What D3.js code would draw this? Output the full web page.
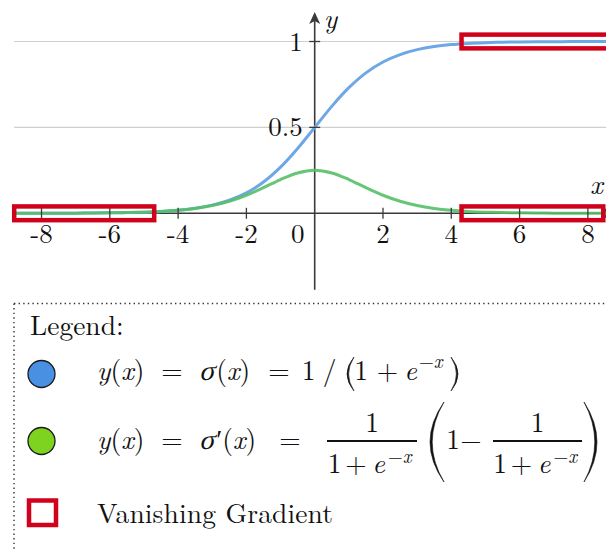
<!DOCTYPE html>
<html>
<head>
<meta charset="utf-8">
<script src="https://cdn.jsdelivr.net/npm/d3@7"></script>
<style>
  html, body { margin: 0; padding: 0; background: #fff; }
  svg { display: block; }
</style>
</head>
<body>
<svg id="chart" width="606" height="551"></svg>
<script>
// ---- data ----
const xTicks = [-8, -6, -4, -2, 2, 4, 6, 8];
const xTickLabels = ["-8", "-6", "-4", "-2", "2", "4", "6", "8"];
const yTicks = [0.5, 1];
const yTickLabels = ["0.5", "1"];

// sampled curve values
const xs = [-8.8, -8, -7.5, -7, -6.5, -6, -5.5, -5, -4.5, -4, -3.5, -3, -2.5, -2, -1.5, -1, -0.5,
            0, 0.5, 1, 1.5, 2, 2.5, 3, 3.5, 4, 4.5, 5, 5.5, 6, 6.5, 7, 7.5, 8, 8.8];
const sigmoidY = [0.0002, 0.0003, 0.0006, 0.0009, 0.0015, 0.0025, 0.0041, 0.0067, 0.0110, 0.0180,
                  0.0293, 0.0474, 0.0759, 0.1192, 0.1824, 0.2689, 0.3775, 0.5, 0.6225, 0.7311,
                  0.8176, 0.8808, 0.9241, 0.9526, 0.9707, 0.9820, 0.9890, 0.9933, 0.9959, 0.9975,
                  0.9985, 0.9991, 0.9994, 0.9997, 0.9998];
const sigmoidPrimeY = [0.0002, 0.0003, 0.0006, 0.0009, 0.0015, 0.0025, 0.0041, 0.0066, 0.0109, 0.0177,
                       0.0285, 0.0452, 0.0701, 0.1050, 0.1491, 0.1966, 0.2350, 0.25, 0.2350, 0.1966,
                       0.1491, 0.1050, 0.0701, 0.0452, 0.0285, 0.0177, 0.0109, 0.0066, 0.0041, 0.0025,
                       0.0015, 0.0009, 0.0006, 0.0003, 0.0002];

// vanishing-gradient regions: x extent around a y level
const vanishingX0 = [-8.8, 4.3, 4.3];
const vanishingX1 = [-4.7, 8.45, 8.95];
const vanishingY = [0, 0, 1];
const vanishingHalf = 0.04;

const legendTitle = "Legend:";
const legendLabel3 = "Vanishing Gradient";

const FONT = "Latin Modern Roman, Liberation Serif, serif";
const GREEK_FONT = "Liberation Serif";

// ---- scales ----
const svg = d3.select("#chart");
const x = d3.scaleLinear().domain([-8.8, 8.8]).range([14.2, 615.2]);
const y = d3.scaleLinear().domain([0, 1]).range([213.3, 41.5]);

const BLUE = "#6ea7e6", GREEN = "#55c067", RED = "#d0021b", AXIS = "#3a3a3a", INK = "#111";

function txt(g, px, py, size) {
  return g.append("text").attr("x", px).attr("y", py)
    .attr("font-family", FONT).attr("font-size", size).attr("fill", INK);
}

// grid lines
svg.append("g").selectAll("line").data(yTicks).join("line")
  .attr("x1", x(-8.8)).attr("x2", x(8.8))
  .attr("y1", d => y(d)).attr("y2", d => y(d))
  .attr("stroke", "#cfcfcf").attr("stroke-width", 1.2);

// axis lines
const axes = svg.append("g").attr("stroke", AXIS).attr("stroke-width", 1.6);
axes.append("line").attr("x1", x(-8.8)).attr("x2", x(8.8) - 8).attr("y1", y(0)).attr("y2", y(0));
axes.append("line").attr("x1", x(0)).attr("x2", x(0)).attr("y1", y(-0.445)).attr("y2", y(1.172) + 8);

// arrow heads
const arrow = "M0,0 L-5.5,12 L0,9 L5.5,12 Z";
svg.append("path").attr("d", arrow).attr("fill", AXIS)
  .attr("transform", `translate(${x(0)},${y(1.172)})`);
svg.append("path").attr("d", arrow).attr("fill", AXIS)
  .attr("transform", `translate(${x(8.8)},${y(0)}) rotate(90)`);

// curves
const line = d3.line().curve(d3.curveCatmullRom.alpha(0.5))
  .x(d => x(d[0])).y(d => y(d[1]));
svg.append("path").datum(xs.map((v, i) => [v, sigmoidY[i]]))
  .attr("d", line).attr("fill", "none").attr("stroke", BLUE).attr("stroke-width", 3);
svg.append("path").datum(xs.map((v, i) => [v, sigmoidPrimeY[i]]))
  .attr("d", line).attr("fill", "none").attr("stroke", GREEN).attr("stroke-width", 3)
  .attr("stroke-opacity", 0.9);

// ticks
svg.append("g").selectAll("line").data(xTicks).join("line")
  .attr("x1", d => x(d)).attr("x2", d => x(d))
  .attr("y1", y(0) - 5.5).attr("y2", y(0) + 5.5)
  .attr("stroke", AXIS).attr("stroke-width", 1.3);
svg.append("g").selectAll("line").data(yTicks).join("line")
  .attr("x1", x(0) - 5.5).attr("x2", x(0) + 5.5)
  .attr("y1", d => y(d)).attr("y2", d => y(d))
  .attr("stroke", AXIS).attr("stroke-width", 1.3);

// tick labels
const xl = svg.append("g");
xTicks.forEach((d, i) => txt(xl, x(d), 243, 27).attr("text-anchor", "middle").text(xTickLabels[i]));
txt(svg, x(0) - 17, 243, 27).attr("text-anchor", "middle").text("0");
const yl = svg.append("g");
yTicks.forEach((d, i) => txt(yl, x(0) - 12, y(d) + 9, 27).attr("text-anchor", "end").text(yTickLabels[i]));

// axis names
txt(svg, x(0) + 9, 28, 27.5).attr("font-style", "italic").text("y");
txt(svg, 590, 194, 27.5).attr("font-style", "italic").text("x");

// vanishing-gradient boxes
svg.append("g").selectAll("rect").data(vanishingX0).join("rect")
  .attr("x", d => x(d))
  .attr("width", (d, i) => x(vanishingX1[i]) - x(d))
  .attr("y", (d, i) => y(vanishingY[i] + vanishingHalf))
  .attr("height", (d, i) => y(vanishingY[i] - vanishingHalf) - y(vanishingY[i] + vanishingHalf))
  .attr("fill", "none").attr("stroke", RED).attr("stroke-width", 4.5);

// ---- legend ----
const lg = svg.append("g");
lg.append("line").attr("x1", 14).attr("x2", 606).attr("y1", 303.5).attr("y2", 303.5)
  .attr("stroke", "#333").attr("stroke-width", 1.4).attr("stroke-dasharray", "1.4,3.2");
lg.append("line").attr("x1", 14).attr("x2", 14).attr("y1", 303.5).attr("y2", 551)
  .attr("stroke", "#333").attr("stroke-width", 1.4).attr("stroke-dasharray", "1.4,3.2");

txt(lg, 30, 335, 27.5).text(legendTitle);

lg.append("circle").attr("cx", 41.5).attr("cy", 374).attr("r", 13.5)
  .attr("fill", "#4a90e2").attr("stroke", "#1a1a1a").attr("stroke-width", 1.3);
lg.append("circle").attr("cx", 41.5).attr("cy", 441).attr("r", 13.5)
  .attr("fill", "#7ed321").attr("stroke", "#1a1a1a").attr("stroke-width", 1.3);
lg.append("rect").attr("x", 29).attr("y", 500.5).attr("width", 27).attr("height", 24.5)
  .attr("fill", "#fff").attr("stroke", RED).attr("stroke-width", 4.5);

txt(lg, 97, 523, 27.5).attr("textLength", 236).attr("lengthAdjust", "spacing").text(legendLabel3);

// ---- formula typesetting helpers ----
const MS = 27.5;
function put(g, px, py, parts, opt = {}) {
  const t = txt(g, px, py, opt.size || MS).attr("text-anchor", opt.anchor || "start");
  if (opt.len) t.attr("textLength", opt.len).attr("lengthAdjust", "spacing");
  parts.forEach(([s, it]) => t.append("tspan").attr("font-style", it ? "italic" : "normal").text(s));
  return t;
}
// sigma slanted by a skew, followed by the rest of the group
function sigmaGroup(g, px, py, rest) {
  const s = g.append("g").attr("transform", `translate(${px},${py}) skewX(-14)`)
    .append("text").attr("x", 0).attr("y", 0)
    .attr("font-family", GREEK_FONT).attr("font-style", "normal").attr("font-weight", 400)
    .attr("font-size", MS * 1.02).attr("fill", INK).text("σ");
  const w = s.node().getComputedTextLength();
  put(g, px + w + 2, py, rest);
}
// tall parenthesis drawn as a thin crescent; xOuter = bulge, xTip = ends
function paren(g, xOuter, xTip, top, bottom, thick) {
  const mid = (top + bottom) / 2;
  const dir = Math.sign(xTip - xOuter);
  const cOut = 2 * xOuter - xTip;
  const cIn = 2 * (xOuter + dir * thick) - xTip;
  g.append("path")
    .attr("d", `M${xTip},${top} Q${cOut},${mid} ${xTip},${bottom} Q${cIn},${mid} ${xTip},${top} Z`)
    .attr("fill", INK).attr("stroke", INK).attr("stroke-width", 0.6);
}
function frac(g, x0, x1, barY, numMid, numBase, den, denBase) {
  g.append("line").attr("x1", x0).attr("x2", x1).attr("y1", barY).attr("y2", barY)
    .attr("stroke", INK).attr("stroke-width", 1.8);
  put(g, numMid, numBase, [["1", 0]], { anchor: "middle" });
  put(g, den[0], denBase, [["1", 0]], { anchor: "middle" });
  put(g, den[1], denBase, [["+", 0]], { anchor: "middle" });
  put(g, den[2], denBase, [["e", 1]], { anchor: "middle" });
  put(g, den[3], denBase - 10, [["−", 0], ["x", 1]], { size: 19 });
}

const f = lg.append("g");
// row 1: y(x) = σ(x) = 1 / (1 + e^{-x})
const b1 = 380;
put(f, 97, b1, [["y", 1], ["(", 0], ["x", 1], [")", 0]]);
put(f, 172, b1, [["=", 0]], { anchor: "middle" });
sigmaGroup(f, 199, b1, [["(", 0], ["x", 1], [")", 0]]);
put(f, 279, b1, [["=", 0]], { anchor: "middle" });
put(f, 308.5, b1, [["1", 0]], { anchor: "middle" });
put(f, 329.5, b1, [["/", 0]], { anchor: "middle" });
paren(f, 347, 354, 357, 391, 1.6);
put(f, 361, b1, [["1", 0]], { anchor: "middle" });
put(f, 387.5, b1, [["+", 0]], { anchor: "middle" });
put(f, 410.5, b1, [["e", 1]], { anchor: "middle" });
put(f, 419, b1 - 12, [["−", 0], ["x", 1]], { size: 19 });
paren(f, 458, 451, 357, 391, 1.6);

// row 2: y(x) = σ'(x) = 1/(1+e^{-x}) (1 − 1/(1+e^{-x}))
const b2 = 449;
put(f, 97, b2, [["y", 1], ["(", 0], ["x", 1], [")", 0]]);
put(f, 172, b2, [["=", 0]], { anchor: "middle" });
sigmaGroup(f, 199, b2, [["′", 0], ["(", 0], ["x", 1], [")", 0]]);
put(f, 290, b2, [["=", 0]], { anchor: "middle" });
frac(f, 327, 417, 441, 372, 432, [334.5, 356, 378.5, 388], 473);
paren(f, 430, 444, 402, 482, 2.2);
put(f, 453, b2, [["1", 0]], { anchor: "middle" });
put(f, 471, b2, [["−", 0]], { anchor: "middle" });
frac(f, 493, 582, 441, 537.5, 432, [500, 521.5, 544, 553.5], 473);
paren(f, 597, 584, 402, 482, 2.2);
</script>
</body>
</html>
